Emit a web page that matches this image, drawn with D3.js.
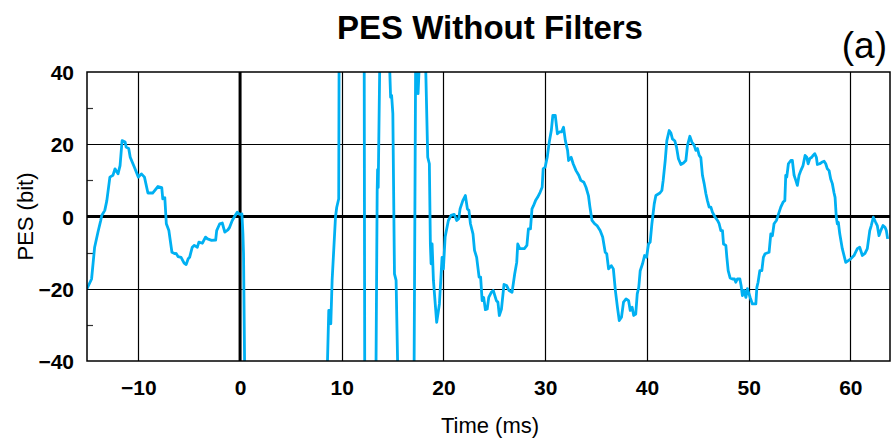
<!DOCTYPE html>
<html>
<head>
<meta charset="utf-8">
<script src="https://cdn.jsdelivr.net/npm/d3@7"></script>
<style>
  html, body { margin: 0; padding: 0; background: #fff; }
  svg { display: block; }
  text { font-family: "Liberation Sans", Arial, Helvetica, sans-serif; fill: #000; }
</style>
</head>
<body>
<svg id="chart" width="893" height="442"></svg>
<script>
// PES trace, time in ms and value in bit. Values beyond ±40 run off the plot frame.
const timeMs = [
  -15.05,-14.6,-14.3,-13.97,-13.7,-13.6,-13.3,-13.1,-12.8,-12.5,-12.3,-12.0,-11.8,-11.6,-11.3,-11.2,-10.95,-10.8,-10.4,-10.0,
  -9.7,-9.4,-9.06,-8.6,-8.07,-7.7,-7.6,-7.4,-7.25,-7.0,-6.7,-6.4,-6.3,-6.1,-5.8,-5.5,-5.3,-5.1,-4.96,-4.7,
  -4.5,-4.2,-4.05,-3.7,-3.4,-3.2,-2.8,-2.4,-2.3,-2.0,-1.75,-1.5,-1.2,-1.03,-0.77,-0.44,-0.28,-0.05,0.18,0.28,
  0.34,0.46,0.6,8.4,8.55,8.72,8.9,8.92,9.05,9.38,9.5,9.7,9.74,9.9,12.1,12.2,12.26,12.4,13.2,13.35,
  13.48,13.52,13.58,13.76,13.9,14.4,14.55,14.8,14.9,15.02,15.18,15.34,15.52,15.65,17.0,17.1,17.27,17.3,17.5,17.62,
  17.8,18.1,18.45,18.61,18.71,18.78,18.88,19.01,19.33,19.6,19.86,19.99,20.16,20.48,20.75,21.05,21.3,21.5,21.63,21.9,
  22.15,22.35,22.5,22.65,22.9,23.05,23.26,23.5,23.65,23.8,23.95,24.12,24.3,24.45,24.7,24.9,25.2,25.35,25.49,25.7,
  25.95,26.2,26.45,26.74,27.0,27.2,27.3,27.5,27.95,28.2,28.35,28.55,28.7,28.85,29.05,29.25,29.5,29.7,29.8,30.0,
  30.2,30.4,30.6,30.75,30.99,31.2,31.4,31.6,31.8,31.98,32.2,32.3,32.55,32.75,33.03,33.3,33.5,33.8,34.01,34.25,
  34.4,34.6,34.85,35.09,35.4,35.65,35.9,36.05,36.23,36.5,36.7,36.9,37.1,37.28,37.5,37.7,37.95,38.2,38.36,38.55,
  38.7,38.9,39.05,39.2,39.34,39.57,39.77,39.96,40.16,40.32,40.49,40.72,40.88,41.28,41.47,41.6,41.8,41.96,42.19,42.36,
  42.51,42.75,42.91,43.1,43.34,43.59,43.83,43.99,44.22,44.42,44.65,44.81,44.97,45.14,45.3,45.46,45.63,45.8,45.95,46.12,
  46.29,46.44,46.71,46.94,47.1,47.27,47.43,47.53,47.76,47.86,47.99,48.18,48.41,48.61,48.74,48.9,49.14,49.26,49.39,49.56,
  49.73,49.88,50.15,50.37,50.71,50.81,50.93,51.1,51.3,51.45,51.62,52.01,52.18,52.34,52.5,52.73,53.0,53.16,53.39,53.56,
  53.65,53.75,53.91,54.15,54.3,54.47,54.64,54.79,54.96,55.13,55.35,55.55,55.72,55.85,56.01,56.21,56.34,56.5,56.66,56.76,
  56.99,57.19,57.42,57.58,57.74,57.91,58.07,58.23,58.4,58.5,58.62,58.72,58.82,58.96,59.21,59.55,59.8,60.04,60.36,60.69,
  60.92,61.18,61.44,61.67,61.91,62.06,62.26,62.49,62.65,62.82,62.99,63.21,63.41,63.54,63.67
];
const pesBit = [
  -20.0,-17.3,-8.5,-4.3,-1.1,0.3,1.7,4.4,10.9,11.4,13.2,11.8,14.1,21.0,20.6,19.2,18.8,16.4,13.7,10.9,
  11.8,10.9,6.5,6.5,8.3,8.0,4.9,5.2,-2.0,-3.9,-9.9,-10.3,-10.2,-11.1,-11.3,-12.9,-13.3,-11.7,-11.3,-8.5,
  -8.0,-8.5,-7.1,-7.4,-5.7,-6.2,-6.6,-6.5,-3.9,-2.0,-1.8,-4.3,-3.7,-3.0,-1.1,0.5,1.2,0.6,0.7,-4.8,
  -10.3,-45,-70,-70,-45,-26,-26,-29.7,-17.7,-0.2,2.5,4.9,48,70,70,50,-50,-70,-70,-48,
  7,13,8,48,70,70,55,33,33.5,28.5,-15.9,-17.7,-45,-70,-70,-48,48,46,34,42,
  70,60,16.4,14.6,-7.6,-13.1,-7.6,-17.7,-29.3,-24.2,-11.3,-14.5,-5.7,-1.1,0.3,0.6,-1.1,-0.6,2.1,4.4,
  5.8,2.1,1.7,-2.0,-4.8,-9.4,-11.3,-16.8,-16.8,-23.3,-22.4,-25.8,-25.6,-22.4,-21.0,-20.5,-23.3,-23.7,-27.4,-25.6,
  -18.8,-19.1,-20.5,-21.0,-15.9,-12.7,-7.6,-8.9,-8.9,-8.0,-3.4,-3.4,2.1,3.0,4.4,5.3,6.7,8.1,13.2,13.7,
  16.4,20.6,23.8,28.0,28.0,22.9,23.4,23.4,24.7,21.0,18.3,15.5,16.4,14.6,12.7,11.4,10.0,9.5,8.1,5.8,
  2.6,-1.1,-2.0,-2.5,-3.9,-5.7,-9.9,-10.3,-14.5,-13.6,-14.5,-20.5,-25.1,-28.8,-27.9,-23.7,-22.8,-23.3,-26.0,-25.1,
  -27.4,-27.0,-21.4,-19.6,-15.0,-13.1,-10.8,-11.3,-7.6,-7.1,-2.0,3.5,5.8,6.5,7.2,10.0,15.5,21.0,23.8,23.1,
  21.5,20.9,19.2,16.0,14.4,14.8,15.5,19.7,22.2,20.6,19.7,18.3,18.8,16.9,16.3,11.4,9.1,6.3,4.4,2.6,
  2.6,1.2,-0.2,-1.1,-2.0,-3.9,-3.9,-7.6,-8.0,-11.3,-15.0,-17.0,-17.3,-17.3,-18.2,-17.3,-17.3,-19.1,-21.9,-20.5,
  -22.4,-20.0,-22.4,-24.2,-24.2,-19.6,-18.2,-15.0,-15.0,-11.3,-10.3,-9.9,-4.8,-5.3,-2.0,-1.1,1.2,2.6,4.0,4.4,
  11.4,10.9,14.6,15.5,15.5,11.4,10.0,8.6,11.4,12.7,14.1,16.9,16.4,14.6,16.0,16.4,16.9,17.4,16.4,14.4,
  14.6,15.0,15.3,14.6,13.2,12.7,10.4,9.1,6.5,5.3,-0.2,-2.0,-1.6,-4.8,-8.9,-12.7,-12.2,-11.7,-10.8,-8.9,
  -8.5,-10.8,-10.2,-8.9,-3.9,-2.5,-0.2,-1.6,-2.5,-5.3,-3.9,-2.5,-3.0,-3.9,-6.2
];

const xTicks = [-10, 0, 10, 20, 30, 40, 50, 60];
const yTicks = [-40, -20, 0, 20, 40];
const yMinorTicks = [-30, -10, 10, 30];
const xDomain = [-15.05, 63.9];
const yDomain = [-40, 40];

const chartTitle = "PES Without Filters";
const panelLabel = "(a)";
const xTitle = "Time (ms)";
const yTitle = "PES (bit)";

const W = 893, H = 442;
const m = { left: 87, right: 3, top: 72, bottom: 81 };
const svg = d3.select("#chart");

const x = d3.scaleLinear().domain(xDomain).range([m.left, W - m.right]);
const y = d3.scaleLinear().domain(yDomain).range([H - m.bottom, m.top]);

const pts = timeMs.map((t, i) => [t, pesBit[i]]);

svg.append("defs").append("clipPath").attr("id", "plotClip")
  .append("rect")
  .attr("x", x(xDomain[0])).attr("y", y(40))
  .attr("width", x(xDomain[1]) - x(xDomain[0]))
  .attr("height", y(-40) - y(40));

// grid
const grid = svg.append("g");
grid.selectAll("line.vg").data(xTicks.filter(d => d !== 0)).join("line")
  .attr("x1", d => Math.round(x(d)) + 0.5).attr("x2", d => Math.round(x(d)) + 0.5)
  .attr("y1", y(40)).attr("y2", y(-40))
  .attr("stroke", "#000").attr("stroke-width", 1.2);
grid.selectAll("line.hg").data(yTicks.filter(d => d !== 0 && Math.abs(d) !== 40)).join("line")
  .attr("x1", x(xDomain[0])).attr("x2", x(xDomain[1]))
  .attr("y1", d => Math.round(y(d)) + 0.5).attr("y2", d => Math.round(y(d)) + 0.5)
  .attr("stroke", "#000").attr("stroke-width", 1.2);

// zero lines
svg.append("line")
  .attr("x1", x(xDomain[0])).attr("x2", x(xDomain[1]))
  .attr("y1", y(0)).attr("y2", y(0))
  .attr("stroke", "#000").attr("stroke-width", 3);
svg.append("line")
  .attr("x1", x(0)).attr("x2", x(0))
  .attr("y1", y(40)).attr("y2", y(-40))
  .attr("stroke", "#000").attr("stroke-width", 3);

// minor ticks on the left edge
svg.append("g").selectAll("line").data(yMinorTicks).join("line")
  .attr("x1", x(xDomain[0])).attr("x2", x(xDomain[0]) + 6)
  .attr("y1", d => Math.round(y(d)) + 0.5).attr("y2", d => Math.round(y(d)) + 0.5)
  .attr("stroke", "#333").attr("stroke-width", 1.2);

// trace
svg.append("path")
  .datum(pts)
  .attr("clip-path", "url(#plotClip)")
  .attr("fill", "none")
  .attr("stroke", "#00b0f2")
  .attr("stroke-width", 2.8)
  .attr("stroke-linejoin", "round")
  .attr("d", d3.line().x(d => x(d[0])).y(d => y(d[1])));

// frame
svg.append("rect")
  .attr("x", x(xDomain[0])).attr("y", y(40))
  .attr("width", x(xDomain[1]) - x(xDomain[0]))
  .attr("height", y(-40) - y(40))
  .attr("fill", "none").attr("stroke", "#000").attr("stroke-width", 1.5);

// axes (labels only)
const xAxis = d3.axisBottom(x).tickValues(xTicks).tickSize(0).tickPadding(0).tickFormat(d3.format("d"));
const gx = svg.append("g").attr("transform", `translate(0,${y(-40)})`).call(xAxis);
gx.select(".domain").remove();
gx.selectAll("text")
  .attr("y", 34).attr("dy", null)
  .style("font-size", "21px").style("font-weight", "bold")
  .style("font-family", "'Liberation Sans', Arial, sans-serif");

const yAxis = d3.axisLeft(y).tickValues(yTicks).tickSize(0).tickPadding(0).tickFormat(d3.format("d"));
const gy = svg.append("g").attr("transform", `translate(${x(xDomain[0])},0)`).call(yAxis);
gy.select(".domain").remove();
gy.selectAll("text")
  .attr("x", -13).attr("dy", "0.36em")
  .style("font-size", "21px").style("font-weight", "bold")
  .style("font-family", "'Liberation Sans', Arial, sans-serif");

// titles
svg.append("text").attr("x", 490).attr("y", 39).attr("text-anchor", "middle")
  .style("font-size", "33px").style("font-weight", "bold").text(chartTitle);
svg.append("text").attr("x", 887).attr("y", 58).attr("text-anchor", "end")
  .style("font-size", "37px").text(panelLabel);
svg.append("text").attr("x", 490).attr("y", 433).attr("text-anchor", "middle")
  .style("font-size", "22px").text(xTitle);
svg.append("text").attr("transform", `translate(33,${y(0)}) rotate(-90)`).attr("text-anchor", "middle")
  .style("font-size", "22px").text(yTitle);
</script>
</body>
</html>
